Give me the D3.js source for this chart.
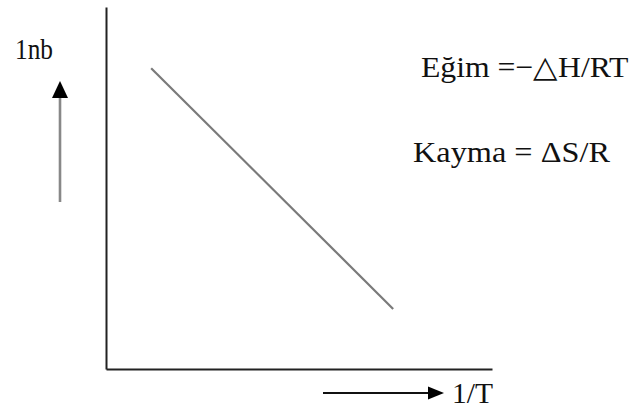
<!DOCTYPE html>
<html>
<head>
<meta charset="utf-8">
<script src="https://cdn.jsdelivr.net/npm/d3@7"></script>
<style>
  html, body { margin: 0; padding: 0; background: #fff; }
  svg { display: block; }
</style>
</head>
<body>
<svg id="chart" width="630" height="410"></svg>
<script>
// van 't Hoff style plot: ln b against 1/T
const lineX = [11.7, 74.4];   // 1/T (arbitrary units)
const lineY = [83.1, 16.6];   // ln b (arbitrary units)
const xLabel = "1/T";
const yLabel = "1nb";
const notes = ["Eğim =−△H/RT", "Kayma =  ΔS/R"];

const serif = "'Liberation Serif', serif";
const svg = d3.select("#chart");
const x = d3.scaleLinear().domain([0, 100]).range([106, 492]);
const y = d3.scaleLinear().domain([0, 100]).range([369, 7]);

// axes without ticks
svg.append("g")
  .attr("transform", `translate(0,${y(0)})`)
  .call(d3.axisBottom(x).tickValues([]).tickSizeOuter(0))
  .call(g => g.select(".domain").attr("stroke", "#222").attr("stroke-width", 2));
svg.append("g")
  .attr("transform", `translate(${x(0)},0)`)
  .call(d3.axisLeft(y).tickValues([]).tickSizeOuter(0))
  .call(g => g.select(".domain").attr("stroke", "#222").attr("stroke-width", 2));

// the straight line
const pts = lineX.map((v, i) => [v, lineY[i]]);
svg.append("path")
  .datum(pts)
  .attr("d", d3.line().x(d => x(d[0])).y(d => y(d[1])))
  .attr("fill", "none")
  .attr("stroke", "#7a7a7a")
  .attr("stroke-width", 2.2);

// upward arrow beside the y label
svg.append("line")
  .attr("x1", 60).attr("y1", 202).attr("x2", 60).attr("y2", 95)
  .attr("stroke", "#888").attr("stroke-width", 2.6);
svg.append("path")
  .attr("d", "M60,81 L52,98 L68,98 Z")
  .attr("fill", "#000");

// rightward arrow beside the x label
svg.append("line")
  .attr("x1", 323).attr("y1", 393).attr("x2", 430).attr("y2", 393)
  .attr("stroke", "#111").attr("stroke-width", 1.8);
svg.append("path")
  .attr("d", "M444,393 L428,386.5 L428,399.5 Z")
  .attr("fill", "#000");

// labels, horizontally condensed via a scale transform
function label(txt, px, py, len) {
  const t = svg.append("text")
    .attr("font-family", serif)
    .attr("font-size", 30)
    .attr("fill", "#111")
    .text(txt);
  const w = t.node().getComputedTextLength();
  t.attr("transform", `translate(${px},${py}) scale(${len / w},1)`);
}
label(yLabel, 15, 59, 38);
label(xLabel, 452, 403, 41);
label(notes[0], 421, 77, 207);
label(notes[1], 413, 162, 197);
</script>
</body>
</html>
